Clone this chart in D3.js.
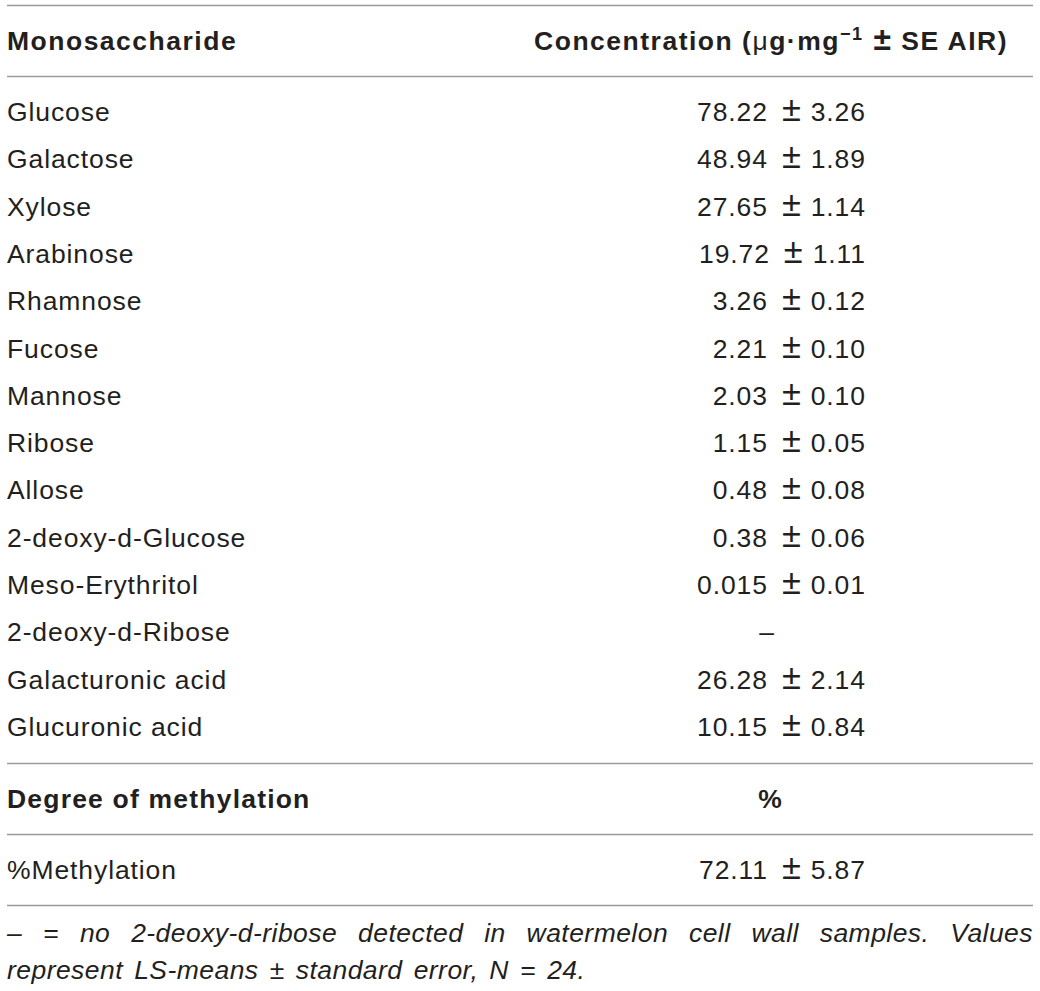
<!DOCTYPE html>
<html><head><meta charset="utf-8">
<script src="https://cdn.jsdelivr.net/npm/d3@7/dist/d3.min.js"></script>
<style>
html,body{margin:0;padding:0;background:#fff;}
svg text{font-family:"Liberation Sans",Arial,Helvetica,sans-serif;fill:#231f20;}
</style></head>
<body>
<svg id="chart" width="1040" height="991"></svg>
<script>
const monosaccharides = ["Glucose","Galactose","Xylose","Arabinose","Rhamnose","Fucose","Mannose","Ribose","Allose","2-deoxy-d-Glucose","Meso-Erythritol","2-deoxy-d-Ribose","Galacturonic acid","Glucuronic acid"];
const means = ["78.22","48.94","27.65","19.72","3.26","2.21","2.03","1.15","0.48","0.38","0.015",null,"26.28","10.15"];
const ses   = ["3.26","1.89","1.14","1.11","0.12","0.10","0.10","0.05","0.08","0.06","0.01",null,"2.14","0.84"];
const methLabel = ["%Methylation"];
const methMean = ["72.11"];
const methSe = ["5.87"];
const header1 = ["Monosaccharide","Concentration"];
const header2 = ["Degree of methylation","%"];
const footnoteLines = [
  "\u2013 = no 2-deoxy-d-ribose detected in watermelon cell wall samples. Values",
  "represent LS-means \u00b1 standard error, N = 24."
];

const svg = d3.select("#chart");
const FS = 26.5, LS = 0.9, LSB = 1.5;
const leftX = 7, valRight = 865, valCenter = 767, headRight = 1008;
const lineColor = "#9a9a9a";

const y = d3.scalePoint().domain(monosaccharides).range([121, 736]);

function hline(yy){
  svg.append("line").attr("x1",7).attr("x2",1033).attr("y1",yy).attr("y2",yy)
    .attr("stroke",lineColor).attr("stroke-width",1.6);
}
[5.5,76.5,763.5,834.5,905.5].forEach(hline);

// header
svg.append("text").attr("x",leftX).attr("y",50).attr("font-size",FS).attr("font-weight","bold")
  .attr("letter-spacing",LSB).text(header1[0]);
const h = svg.append("text").attr("x",headRight).attr("y",50).attr("font-size",FS).attr("font-weight","bold")
  .attr("text-anchor","end").attr("letter-spacing",LSB);
h.append("tspan").text(header1[1]+" (");
h.append("tspan").attr("font-weight","normal").text("\u03bc");
h.append("tspan").text("g\u00b7mg");
h.append("tspan").attr("font-size",FS*0.68).attr("dy",-10).text("\u22121");
h.append("tspan").attr("dy",10).attr("dx",10).attr("font-size",FS*1.2).text("\u00b1");
h.append("tspan").text(" SE AIR)");

function valueText(sel, mean, se){
  sel.append("tspan").text(mean);
  sel.append("tspan").attr("dx",14).attr("font-size",FS*1.3).attr("font-weight","300").text("\u00b1");
  sel.append("tspan").attr("dx",9).text(se);
}

// rows
const rows = svg.append("g");
rows.selectAll("text.name").data(monosaccharides).join("text")
  .attr("class","name").attr("x",leftX).attr("y",d=>y(d)).attr("font-size",FS).attr("letter-spacing",LS).text(d=>d);
rows.selectAll("text.val").data(monosaccharides).join("text")
  .attr("class","val")
  .attr("x",(d,i)=> means[i]===null ? valCenter : valRight + LS)
  .attr("y",d=>y(d)).attr("font-size",FS).attr("letter-spacing",LS)
  .attr("text-anchor",(d,i)=> means[i]===null ? "middle":"end")
  .each(function(d,i){
    const s = d3.select(this);
    if(means[i]===null) s.text("\u2013"); else valueText(s, means[i], ses[i]);
  });

// methylation section
svg.append("text").attr("x",leftX).attr("y",808).attr("font-size",FS).attr("font-weight","bold")
  .attr("letter-spacing",LSB*0.8).text(header2[0]);
svg.append("text").attr("x",valCenter+3).attr("y",808).attr("font-size",FS).attr("font-weight","bold")
  .attr("text-anchor","middle").text(header2[1]);
svg.append("text").attr("x",leftX).attr("y",879).attr("font-size",FS).attr("letter-spacing",LS).text(methLabel[0]);
valueText(svg.append("text").attr("x",valRight + LS).attr("y",879).attr("font-size",FS).attr("letter-spacing",LS)
  .attr("text-anchor","end"), methMean[0], methSe[0]);

// footnote (justified first line)
const fy = [942, 979];
footnoteLines.forEach((line,li)=>{
  const words = line.split(" ");
  const g = svg.append("g");
  const ts = words.map(w=> g.append("text").attr("font-size",FS).attr("font-style","italic")
      .attr("letter-spacing",LS*0.5).attr("y",fy[li]).text(w));
  const widths = ts.map(t=>t.node().getComputedTextLength());
  const total = d3.sum(widths);
  const gap = li===0 ? (1033-leftX-total)/(words.length-1) : FS*0.42;
  let x = leftX;
  ts.forEach((t,i)=>{ t.attr("x",x); x += widths[i]+gap; });
});
</script>
</body></html>
